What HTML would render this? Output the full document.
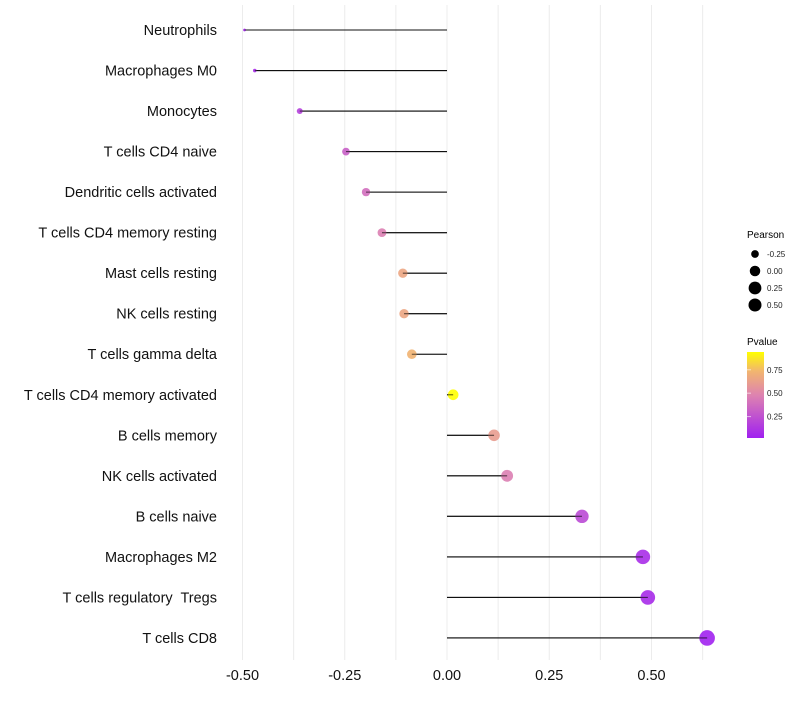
<!DOCTYPE html>
<html><head><meta charset="utf-8"><style>
body{margin:0;background:#fff;font-family:"Liberation Sans",sans-serif;}
svg text{font-family:"Liberation Sans",sans-serif;}
</style></head><body>
<svg id="chart" width="800" height="700" xmlns="http://www.w3.org/2000/svg">
<defs><linearGradient id="pg" x1="0" y1="1" x2="0" y2="0">
<stop offset="0" stop-color="#a020f0"/><stop offset="0.5" stop-color="#de83b0"/><stop offset="0.78" stop-color="#f2b66e"/><stop offset="1" stop-color="#ffff00"/></linearGradient></defs>
<g id="grid"></g>
<g id="marks"></g>
<g id="ylabels"></g>
<g id="xlabels"></g>
<g>
<text x="747" y="238" font-size="10">Pearson</text>
<g id="sizeLeg"></g>
</g>
<g>
<text x="747" y="345" font-size="10">Pvalue</text>
<rect x="747" y="352" width="17" height="86" fill="url(#pg)"/>
<g id="colLeg"></g>
</g>
</svg>
<script>
const categories=["Neutrophils","Macrophages M0","Monocytes","T cells CD4 naive","Dendritic cells activated","T cells CD4 memory resting","Mast cells resting","NK cells resting","T cells gamma delta","T cells CD4 memory activated","B cells memory","NK cells activated","B cells naive","Macrophages M2","T cells regulatory\u00a0 Tregs","T cells CD8"];
const pearson=[-0.495,-0.47,-0.36,-0.247,-0.198,-0.159,-0.108,-0.105,-0.086,0.015,0.115,0.147,0.33,0.479,0.491,0.636];
const pvalue=[0.02,0.05,0.15,0.3,0.37,0.45,0.65,0.65,0.72,0.94,0.6,0.45,0.2,0.06,0.05,0.01];
const xTicks=[-0.5,-0.25,0,0.25,0.5];
const xTickLabels=["-0.50","-0.25","0.00","0.25","0.50"];
const sizeLegVals=[-0.25,0,0.25,0.5];
const sizeLegLabels=["-0.25","0.00","0.25","0.50"];
const colLegVals=[0.75,0.5,0.25];
const colLegLabels=["0.75","0.50","0.25"];
const NS="http://www.w3.org/2000/svg";
const xs=v=>447+v*409;
const ys=i=>30+i*40.53;
const pMin=Math.min(...pearson),pMax=Math.max(...pearson);
const rs=v=>{const t=Math.max(0,(v-pMin)/(pMax-pMin));return Math.sqrt(1+30*t)*1.4;};
const stops=[[0,[160,32,240]],[0.5,[222,131,176]],[0.78,[242,182,110]],[1,[255,255,0]]];
function col(p){let t=Math.max(0,Math.min(1,p/0.94));for(let k=1;k<stops.length;k++){if(t<=stops[k][0]){const a=stops[k-1],b=stops[k];const f=(t-a[0])/(b[0]-a[0]);return "rgb("+a[1].map((c,j)=>Math.round(c+(b[1][j]-c)*f)).join(",")+")";}}return "rgb(255,255,0)";}
function mk(tag,at,parent){const e=document.createElementNS(NS,tag);for(const k in at)e.setAttribute(k,at[k]);parent.appendChild(e);return e;}
const grid=document.getElementById('grid'),marks=document.getElementById('marks'),yl=document.getElementById('ylabels'),xl=document.getElementById('xlabels');
for(let v=-0.5;v<=0.63;v+=0.125){const l=mk('line',{x1:xs(v),x2:xs(v),y1:5,y2:660,stroke:'#ececec','stroke-width':1},grid);

}
categories.forEach((c,i)=>{
const t=mk('text',{x:217,y:ys(i)+5,'text-anchor':'end','font-size':14.5,fill:'#111'},yl);t.textContent=c;


const l=mk('line',{x1:xs(0),x2:xs(pearson[i]),y1:ys(i),y2:ys(i),stroke:'#111','stroke-width':1.1},marks);


const d=mk('circle',{cx:xs(pearson[i]),cy:ys(i),r:rs(pearson[i]),fill:col(pvalue[i]),'fill-opacity':0.9},marks);


const s=mk('line',{x1:xs(0),x2:xs(pearson[i]),y1:ys(i),y2:ys(i),stroke:'#111','stroke-width':1.1,'stroke-opacity':0.6},marks);


});
xTicks.forEach((v,i)=>{const t=mk('text',{x:xs(v),y:680,'text-anchor':'middle','font-size':14.5,fill:'#111'},xl);t.textContent=xTickLabels[i];

});
const sl=document.getElementById('sizeLeg');
sizeLegVals.forEach((v,i)=>{const y=254+i*17;const c=mk('circle',{cx:755,cy:y,r:Math.min(rs(v),6.5),fill:'#000'},sl);


const t=mk('text',{x:767,y:y+3,'font-size':8,fill:'#222'},sl);t.textContent=sizeLegLabels[i];

});
const cl=document.getElementById('colLeg');
colLegVals.forEach((v,i)=>{const y=440-v/0.94*88;const l=mk('line',{x1:747,x2:751,y1:y,y2:y,stroke:'#fff','stroke-opacity':0.6},cl);


const t=mk('text',{x:767,y:y+3,'font-size':8,fill:'#222'},cl);t.textContent=colLegLabels[i];

});
</script>
</body></html>
